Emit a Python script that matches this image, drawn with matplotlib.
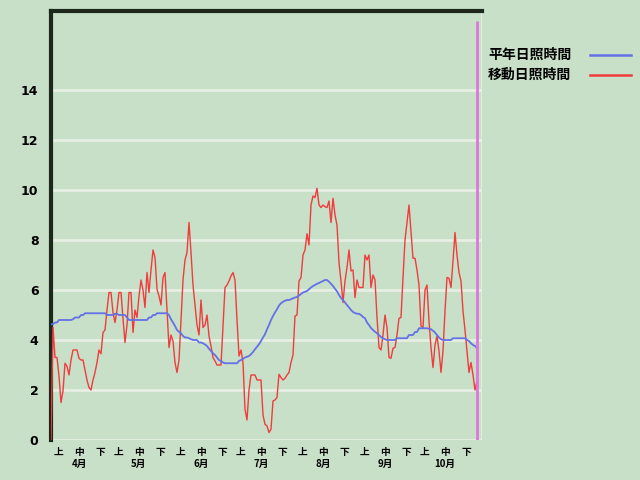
import numpy as np
import matplotlib
matplotlib.use("Agg")
import matplotlib.pyplot as plt

plt.rcParams['font.family'] = ['Noto Sans CJK JP', 'DejaVu Sans']

months = ['4月', '5月', '6月', '7月', '8月', '9月', '10月']
month_lengths = [30, 31, 30, 31, 31, 30, 31]
dekads = ['上', '中', '下']
yticks = [0, 2, 4, 6, 8, 10, 12, 14]
legend_labels = ['平年日照時間', '移動日照時間']

# 平年日照時間 (normal sunshine hours, daily, Apr 1 - Oct 31)
normal = (
    [4.63, 4.63, 4.7, 4.7] + [4.8] * 7 + [4.83] + [4.9] * 3 + [5.0] * 2 + [5.07] * 11
    + [5.0] * 4 + [5.05] * 2 + [5.0] * 4 + [4.9] + [4.8] * 10 + [4.9] * 2 + [5.0] * 2
    + [5.07] * 6 + [5.0, 4.83, 4.7, 4.56, 4.4, 4.33, 4.27, 4.16, 4.1, 4.1, 4.07, 4.03,
                    4.0, 4.0, 4.0, 3.9, 3.9, 3.87, 3.82, 3.76, 3.65, 3.56, 3.47, 3.4,
                    3.3, 3.2, 3.16, 3.1]
    + [3.07] * 7
    + [3.16, 3.2, 3.25, 3.3, 3.33, 3.36, 3.43, 3.52, 3.63, 3.73, 3.83, 3.96, 4.1,
       4.23, 4.43, 4.6, 4.8, 4.96, 5.1, 5.23, 5.38, 5.47, 5.53, 5.57, 5.6, 5.6, 5.63,
       5.67, 5.7, 5.72, 5.78, 5.84, 5.9, 5.93, 5.96, 6.03, 6.1, 6.16, 6.2, 6.25, 6.28,
       6.32, 6.36, 6.4, 6.4, 6.33, 6.25, 6.16, 6.05, 5.95, 5.8, 5.68, 5.6, 5.5, 5.4,
       5.3, 5.2, 5.12, 5.08, 5.05, 5.05, 5.0, 4.92, 4.87, 4.7, 4.6, 4.48, 4.4, 4.33,
       4.27, 4.2, 4.12, 4.07, 4.03]
    + [4.0] * 5 + [4.07] * 6 + [4.2] * 3 + [4.32] * 2 + [4.47] * 5
    + [4.45, 4.43, 4.37, 4.3, 4.2, 4.1, 4.03]
    + [4.0] * 5 + [4.07] * 7 + [4.0, 3.96, 3.87, 3.8, 3.76, 3.67]
)

# 移動日照時間 (moving sunshine hours)
moving = [
    0, 4.5, 3.3, 3.3, 2.56, 1.5, 1.96, 3.07, 2.95, 2.6, 3.2, 3.6, 3.6, 3.6, 3.27, 3.2,
    3.2, 2.8, 2.4, 2.1, 2.0, 2.4, 2.7, 3.1, 3.6, 3.45, 4.3, 4.4, 5.2, 5.9, 5.9, 5.1,
    4.7, 5.2, 5.9, 5.9, 4.85, 3.9, 4.6, 5.9, 5.9, 4.3, 5.2, 4.9, 5.75, 6.4, 6.0, 5.3,
    6.7, 5.9, 6.8, 7.6, 7.3, 6.03, 5.76, 5.4, 6.5, 6.7, 5.2, 3.7, 4.2, 3.96, 3.1, 2.7,
    3.2, 4.8, 6.4, 7.2, 7.5, 8.7, 7.5, 6.2, 5.4, 4.6, 4.2, 5.6, 4.5, 4.6, 5.0, 4.16,
    3.76, 3.3, 3.16, 3.0, 3.0, 3.0, 4.56, 6.1, 6.2, 6.36, 6.56, 6.7, 6.4, 4.8, 3.36,
    3.6, 3.1, 1.23, 0.8, 2.0, 2.6, 2.6, 2.6, 2.4, 2.4, 2.4, 1.0, 0.63, 0.56, 0.3, 0.43,
    1.56, 1.6, 1.7, 2.63, 2.5, 2.4, 2.47, 2.6, 2.7, 3.1, 3.4, 4.96, 5.0, 6.36, 6.5,
    7.4, 7.6, 8.25, 7.8, 9.4, 9.76, 9.7, 10.07, 9.4, 9.3, 9.4, 9.33, 9.3, 9.56, 8.7,
    9.67, 9.0, 8.6, 7.1, 6.36, 5.5, 6.36, 6.9, 7.6, 6.76, 6.8, 5.7, 6.4, 6.1, 6.1,
    6.1, 7.4, 7.2, 7.4, 6.1, 6.6, 6.4, 4.9, 3.7, 3.6, 4.2, 5.0, 4.5, 3.3, 3.27, 3.67,
    3.7, 4.2, 4.87, 4.9, 6.5, 8.0, 8.7, 9.4, 8.36, 7.27, 7.27, 6.8, 6.2, 4.56, 4.5,
    6.0, 6.2, 4.76, 3.7, 2.9, 3.8, 4.16, 3.56, 2.7, 3.56, 5.16, 6.5, 6.47, 6.1, 7.16,
    8.3, 7.4, 6.7, 6.36, 5.16, 4.4, 3.56, 2.7, 3.1, 2.6, 2.0, 2.36,
]

bg = '#C8E0C8'
grid_c = '#E6EFE4'

fig = plt.figure(figsize=(6.4, 4.8), dpi=100, facecolor=bg)
ax = fig.add_axes([51 / 640, 40 / 480, 431 / 640, 429 / 480])
ax.set_facecolor(bg)

total_days = sum(month_lengths)
ax.set_xlim(0, total_days + 1.5)
ax.set_ylim(0, 17.16)

for v in yticks:
    ax.axhline(v, color=grid_c, lw=2, zorder=1)
ax.axvline(total_days + 1.5, color=grid_c, lw=2, zorder=1)

xn = np.arange(len(normal))
xm = np.arange(len(moving))
ax.plot(xm, moving, color='#F03C3C', lw=1.0, zorder=3)
ax.plot(xn, normal, color='#6470E6', lw=1.3, zorder=4)

# end marker
ax.vlines(len(moving) - 1, 0, 16.76, color='#DD77DD', lw=2, zorder=5)

for s in ['bottom', 'right']:
    ax.spines[s].set_visible(False)
for s in ['left', 'top']:
    ax.spines[s].set_color('#1C281C')
    ax.spines[s].set_linewidth(3)

ax.set_xticks([])
ax.set_yticks(yticks)
ax.set_yticklabels([str(v) for v in yticks], fontsize=9, fontweight='bold',
                   family='DejaVu Sans')
ax.tick_params(axis='y', length=0, pad=9)

# x labels
trans = ax.get_xaxis_transform()
start = 0
offsets = [4, 14, 24.5]
for m, ml in zip(months, month_lengths):
    for dk, off in zip(dekads, offsets):
        ax.text(start + off, -0.028, dk, transform=trans, ha='center', va='center',
                fontsize=7, fontweight='bold', clip_on=False)
    ax.text(start + offsets[1], -0.056, m, transform=trans, ha='center', va='center',
            fontsize=7, fontweight='bold', clip_on=False)
    start += ml

# legend
colors = ['#6470E6', '#F03C3C']
for i, (lab, c) in enumerate(zip(legend_labels, colors)):
    y = 1 - (55 + 20 * i) / 480
    fig.text(488 / 640, y, lab, ha='left', va='center', fontsize=10, fontweight='bold')
    fig.add_artist(plt.Line2D([590 / 640, 631 / 640], [y, y], color=c, lw=1.8,
                              transform=fig.transFigure))

fig.savefig('out.png', dpi=100, facecolor=bg)
